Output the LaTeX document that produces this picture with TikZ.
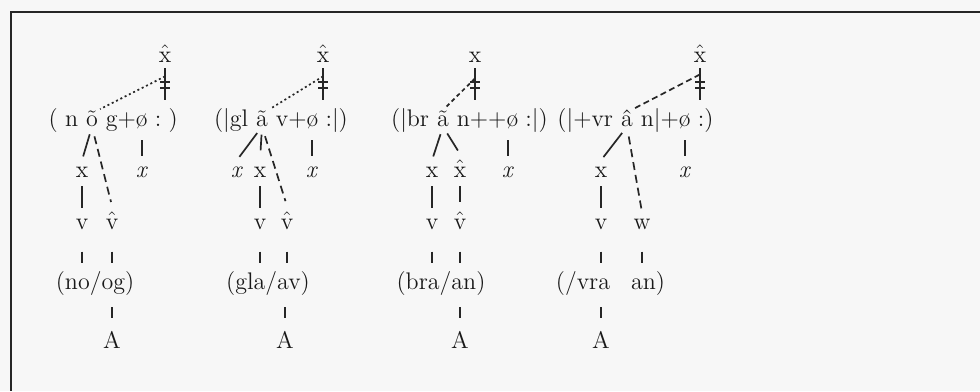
\documentclass[tikz,border=0pt]{standalone}
\usepackage{fontspec}
\newcommand\mygap{\kern.3em}
\newcommand\rowfont{\fontsize{12}{14}\selectfont}
\begin{document}
\begin{tikzpicture}[x=0.5pt,y=-0.5pt]
\tikzset{
  sym/.style={inner xsep=0.5pt, inner ysep=3pt, font=\rowfont, anchor=base, text=black!90},
  seg/.style={inner sep=0pt, font=\rowfont, text=black!90},
  ln/.style={line width=0.85pt, draw=black!85},
  dl/.style={ln, dash pattern=on 4pt off 2.5pt},
  dt/.style={ln, dash pattern=on 1pt off 1.4pt},
  ds/.style={ln, dash pattern=on 2pt off 1.6pt},
  dm/.style={ln, dash pattern=on 3pt off 1.8pt},
  bar/.style={ln, line width=0.9pt},
  frame/.style={line width=1.3pt, draw=black!85}
}
\fill[black!3] (0,0) rectangle (980,391);
\useasboundingbox (0,0) rectangle (980,391);
\coordinate (fTR) at (980,12);
\coordinate (fTL) at (11,12);
\coordinate (fBL) at (11,391);
\draw[frame] (fTR) -- (fTL) -- (fBL);

% ---------------- tree 1 ----------------
\node[sym] (X1) at (165,62) {$\hat{\mathrm{x}}$};
\node[seg, anchor=base] (o1) at (92,126) {õ};
\node[seg, anchor=base east] (l1) at (o1.base west) {(\mygap n\mygap};
\node[seg, anchor=base west] (r1) at (o1.base east) {\mygap g+ø\mygap :\mygap )};
\draw[ln, shorten >=4pt] (X1.south) -- (X1.south |- r1.north) coordinate[pos=.35] (k1a) coordinate[pos=.5] (k1b);
\draw[bar] ([xshift=-2.5pt]k1a) -- ([xshift=2.5pt]k1a);
\draw[bar] ([xshift=-2.5pt]k1b) -- ([xshift=2.5pt]k1b);
\draw[dt, shorten >=1pt] ([yshift=-4pt]X1.south) -- (o1.north east);
\node[sym] (x1) at (82,177) {x};
\node[sym] (xi1) at (142,177) {\textit{x}};
\node[sym] (v1) at (82,229) {v};
\node[sym] (vh1) at (112,229) {$\hat{\mathrm{v}}$};
\node[sym] (b1) at (95,289) {(no/og)};
\node[sym] (A1) at (112,348) {A};
\draw[ln, shorten <=4pt, shorten >=2pt] (o1.south) -- (x1.north);
\draw[dl, shorten <=5pt, shorten >=2pt] (o1.south) -- (vh1.north);
\draw[ln, shorten <=4pt, shorten >=2pt] (xi1.north |- r1.south) -- (xi1.north);
\draw[ln, shorten <=1.5pt, shorten >=2pt] (x1) -- (v1);
\draw[ln, shorten <=8pt, shorten >=1pt] (v1.south) -- (v1.south |- b1.north);
\draw[ln, shorten <=8pt, shorten >=1pt] (vh1.south) -- (vh1.south |- b1.north);
\draw[ln, shorten <=3pt, shorten >=3pt] (A1.north |- b1.south) -- (A1.north);

% ---------------- tree 2 ----------------
\node[sym] (X2) at (323,62) {$\hat{\mathrm{x}}$};
\node[seg, anchor=base] (a2) at (262,126) {ã};
\node[seg, anchor=base east] (l2) at (a2.base west) {(\textbar gl\mygap};
\node[seg, anchor=base west] (r2) at (a2.base east) {\mygap v+ø\mygap :\textbar)};
\draw[ln, shorten >=4pt] (X2.south) -- (X2.south |- r2.north) coordinate[pos=.35] (k2a) coordinate[pos=.5] (k2b);
\draw[bar] ([xshift=-2.5pt]k2a) -- ([xshift=2.5pt]k2a);
\draw[bar] ([xshift=-2.5pt]k2b) -- ([xshift=2.5pt]k2b);
\draw[dt, shorten >=1pt] ([yshift=-4pt]X2.south) -- (a2.north east);
\node[sym] (xi2) at (237,177) {\textit{x}};
\node[sym] (x2) at (260,177) {x};
\node[sym] (xj2) at (312,177) {\textit{x}};
\node[sym] (v2) at (260,229) {v};
\node[sym] (vh2) at (287,229) {$\hat{\mathrm{v}}$};
\node[sym] (b2) at (268,289) {(gla/av)};
\node[sym] (A2) at (285,348) {A};
\draw[ln, shorten <=4pt, shorten >=2pt] (a2.south) -- (xi2.north);
\draw[ln, shorten <=4pt, shorten >=5pt] (a2.south) -- (x2.north);
\draw[dl, shorten <=5pt, shorten >=2.5pt] (a2.south) -- (vh2.north);
\draw[ln, shorten <=4pt, shorten >=2pt] (xj2.north |- r2.south) -- (xj2.north);
\draw[ln, shorten <=1.5pt, shorten >=2pt] (x2) -- (v2);
\draw[ln, shorten <=8pt, shorten >=1pt] (v2.south) -- (v2.south |- b2.north);
\draw[ln, shorten <=8pt, shorten >=1pt] (vh2.south) -- (vh2.south |- b2.north);
\draw[ln, shorten <=3pt, shorten >=3pt] (A2.north |- b2.south) -- (A2.north);

% ---------------- tree 3 ----------------
\node[sym] (X3) at (475,62) {x};
\node[seg, anchor=base] (a3) at (443,126) {ã};
\node[seg, anchor=base east] (l3) at (a3.base west) {(\textbar br\mygap};
\node[seg, anchor=base west] (r3) at (a3.base east) {\mygap n++ø\mygap :\textbar)};
\draw[ln, shorten >=4pt] (X3.south) -- (X3.south |- r3.north) coordinate[pos=.35] (k3a) coordinate[pos=.5] (k3b);
\draw[bar] ([xshift=-2.5pt]k3a) -- ([xshift=2.5pt]k3a);
\draw[bar] ([xshift=-2.5pt]k3b) -- ([xshift=2.5pt]k3b);
\draw[ds, shorten >=1pt] ([yshift=-5pt]X3.south) -- (a3.north);
\node[sym] (x3) at (432,177) {x};
\node[sym] (xh3) at (460,177) {$\hat{\mathrm{x}}$};
\node[sym] (xj3) at (508,177) {\textit{x}};
\node[sym] (v3) at (432,229) {v};
\node[sym] (vh3) at (460,229) {$\hat{\mathrm{v}}$};
\node[sym] (b3) at (441,289) {(bra/an)};
\node[sym] (A3) at (460,348) {A};
\draw[ln, shorten <=4pt, shorten >=2pt] (a3.south) -- (x3.north);
\draw[ln, shorten <=4pt, shorten >=2pt] (a3.south) -- (xh3.north);
\draw[ln, shorten <=4pt, shorten >=2pt] (xj3.north |- r3.south) -- (xj3.north);
\draw[ln, shorten <=1.5pt, shorten >=2pt] (x3) -- (v3);
\draw[ln, shorten <=1.5pt, shorten >=2pt] (xh3) -- (vh3);
\draw[ln, shorten <=8pt, shorten >=1pt] (v3.south) -- (v3.south |- b3.north);
\draw[ln, shorten <=8pt, shorten >=1pt] (vh3.south) -- (vh3.south |- b3.north);
\draw[ln, shorten <=3pt, shorten >=3pt] (A3.north |- b3.south) -- (A3.north);

% ---------------- tree 4 ----------------
\node[sym] (X4) at (700,62) {$\hat{\mathrm{x}}$};
\node[seg, anchor=base] (a4) at (627,126) {â};
\node[seg, anchor=base east] (l4) at (a4.base west) {(\textbar+vr\mygap};
\node[seg, anchor=base west] (r4) at (a4.base east) {\mygap n\textbar+ø\mygap :)};
\draw[ln, shorten >=4pt] (X4.south) -- (X4.south |- r4.north) coordinate[pos=.35] (k4a) coordinate[pos=.5] (k4b);
\draw[bar] ([xshift=-2.5pt]k4a) -- ([xshift=2.5pt]k4a);
\draw[bar] ([xshift=-2.5pt]k4b) -- ([xshift=2.5pt]k4b);
\draw[dm, shorten >=1pt] ([yshift=-3pt]X4.south) -- (a4.north east);
\node[sym] (x4) at (601,177) {x};
\node[sym] (xj4) at (685,177) {\textit{x}};
\node[sym] (v4) at (601,229) {v};
\node[sym] (w4) at (642,229) {w};
\node[sym] (b4a) at (583,289) {(/vra};
\node[sym] (b4b) at (648,289) {an)};
\node[sym] (A4) at (601,348) {A};
\draw[ln, shorten <=4pt, shorten >=2pt] (a4.south) -- (x4.north);
\draw[dl, shorten <=5pt, shorten >=1pt] (a4.south) -- (w4.north);
\draw[ln, shorten <=4pt, shorten >=2pt] (xj4.north |- r4.south) -- (xj4.north);
\draw[ln, shorten <=1.5pt, shorten >=2pt] (x4) -- (v4);
\draw[ln, shorten <=8pt, shorten >=1pt] (v4.south) -- (v4.south |- b4a.north);
\draw[ln, shorten <=8pt, shorten >=1pt] (w4.south) -- (w4.south |- b4b.north);
\draw[ln, shorten <=3pt, shorten >=3pt] (A4.north |- b4a.south) -- (A4.north);
\end{tikzpicture}
\end{document}
